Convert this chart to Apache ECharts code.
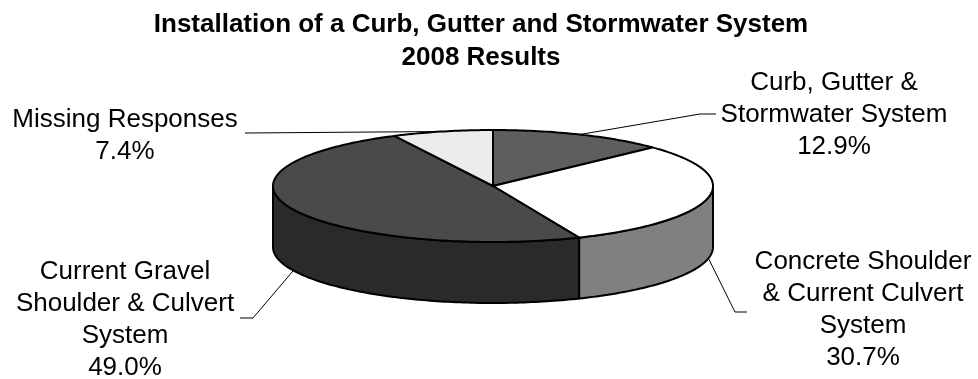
<!DOCTYPE html>
<html>
<head>
<meta charset="utf-8">
<script src="https://cdn.jsdelivr.net/npm/echarts@6/dist/echarts.min.js"></script>
<style>
  html, body { margin: 0; padding: 0; background: #ffffff; }
  #chart { width: 978px; height: 379px; }
</style>
</head>
<body>
<div id="chart"></div>
<script>
// Survey answers and their shares (percent)
const categories = [
  'Curb, Gutter &\nStormwater System',
  'Concrete Shoulder\n& Current Culvert\nSystem',
  'Current Gravel\nShoulder & Culvert\nSystem',
  'Missing Responses'
];
const shares = [12.9, 30.7, 49.0, 7.4];
const titleLines = ['Installation of a Curb, Gutter and Stormwater System', '2008 Results'];

// Fill colours for the top faces and the visible rim of each slice
const topColors = ['#5e5e5e', '#ffffff', '#4a4a4a', '#ececec'];
const sideColors = ['#4a4a4a', '#808080', '#2a2a2a', '#c8c8c8'];

// Label block centres and leader-line elbow / end points
const labelLayout = [
  { x: 834, y: 115, elbow: [700, 114], end: [716, 114] },
  { x: 863, y: 310, elbow: [735, 312], end: [747, 312] },
  { x: 125, y: 320, elbow: [253, 318], end: [240, 318] },
  { x: 125, y: 136, elbow: [245, 133], end: [245, 133] }
];

// Tilted disc geometry (pixels)
const disc = { cx: 493, cy: 186, rx: 220, ry: 56, depth: 61 };
const FONT = '"Liberation Sans", Arial, sans-serif';

const total = shares.reduce((a, b) => a + b, 0);
const starts = [];
(function () {
  let acc = 0;
  shares.forEach(v => { starts.push(acc / total * 2 * Math.PI); acc += v; });
})();

// angle measured clockwise from 12 o'clock
function rim(a, dy) {
  return [disc.cx + disc.rx * Math.sin(a), disc.cy - disc.ry * Math.cos(a) + (dy || 0)];
}
function arcPoints(a0, a1, dy) {
  const n = Math.max(2, Math.ceil((a1 - a0) / (Math.PI / 180)));
  const pts = [];
  for (let i = 0; i <= n; i++) pts.push(rim(a0 + (a1 - a0) * i / n, dy));
  return pts;
}
function sliceAngles(i, value) {
  const a0 = starts[i];
  return [a0, a0 + value / total * 2 * Math.PI];
}

const chart = echarts.init(document.getElementById('chart'), null, { renderer: 'canvas' });

const option = {
  backgroundColor: '#ffffff',
  animation: false,
  title: {
    text: titleLines.join('\n'),
    left: 481,
    top: 8,
    padding: 0,
    textAlign: 'center',
    textStyle: {
      fontFamily: FONT,
      fontSize: 26,
      fontWeight: 'bold',
      color: '#000000',
      lineHeight: 33
    }
  },
  series: [
    {
      // front rim of the disc
      type: 'custom',
      coordinateSystem: 'none',
      z: 1,
      data: shares,
      renderItem: function (params, api) {
        const i = params.dataIndex;
        const [a0, a1] = sliceAngles(i, api.value(0));
        const s0 = Math.max(a0, Math.PI / 2);
        const s1 = Math.min(a1, Math.PI * 3 / 2);
        if (s1 <= s0) return { type: 'group', children: [] };
        const pts = arcPoints(s0, s1, 0).concat(arcPoints(s0, s1, disc.depth).reverse());
        return {
          type: 'polygon',
          shape: { points: pts },
          style: { fill: sideColors[i], stroke: '#000000', lineWidth: 2, lineJoin: 'round' }
        };
      }
    },
    {
      // top faces of the slices
      type: 'custom',
      coordinateSystem: 'none',
      z: 2,
      data: shares,
      renderItem: function (params, api) {
        const i = params.dataIndex;
        const [a0, a1] = sliceAngles(i, api.value(0));
        const pts = [[disc.cx, disc.cy]].concat(arcPoints(a0, a1, 0));
        return {
          type: 'polygon',
          shape: { points: pts },
          style: { fill: topColors[i], stroke: '#000000', lineWidth: 2, lineJoin: 'round' }
        };
      }
    },
    {
      // category labels with leader lines
      type: 'custom',
      coordinateSystem: 'none',
      z: 3,
      data: shares,
      renderItem: function (params, api) {
        const i = params.dataIndex;
        const v = api.value(0);
        const [a0, a1] = sliceAngles(i, v);
        const m = (a0 + a1) / 2;
        const anchor = Math.cos(m) < 0 ? rim(m, disc.depth) : rim(m, 0);
        const L = labelLayout[i];
        return {
          type: 'group',
          children: [
            {
              type: 'polyline',
              shape: { points: [anchor, L.elbow, L.end] },
              style: { stroke: '#000000', lineWidth: 1, fill: null }
            },
            {
              type: 'text',
              style: {
                text: categories[i] + '\n' + v.toFixed(1) + '%',
                x: L.x,
                y: L.y,
                align: 'center',
                verticalAlign: 'middle',
                font: '26px ' + FONT,
                lineHeight: 32,
                fill: '#000000'
              }
            }
          ]
        };
      }
    }
  ]
};

chart.setOption(option);
</script>
</body>
</html>
